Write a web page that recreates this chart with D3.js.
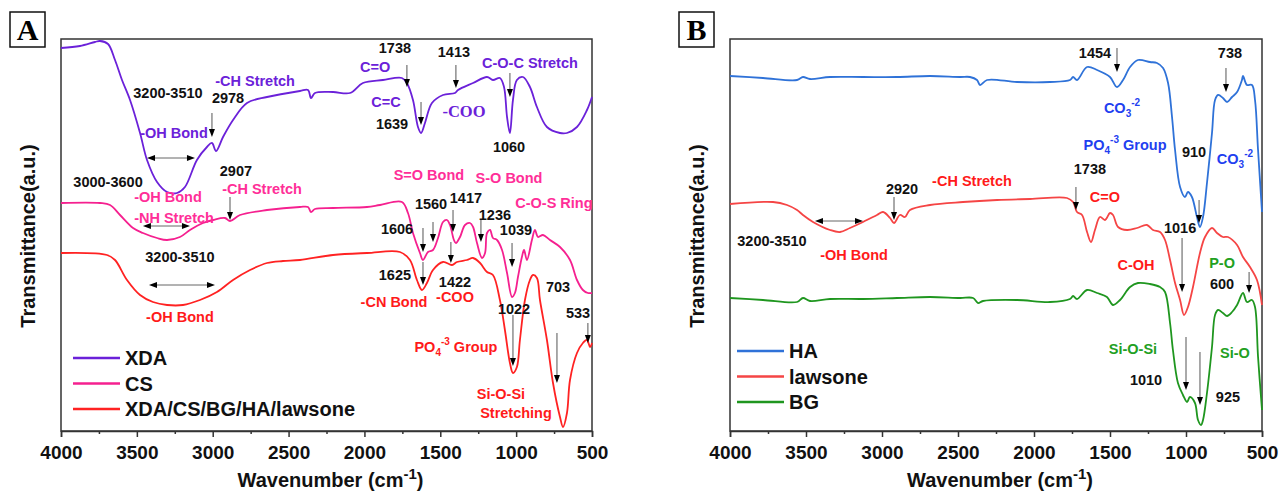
<!DOCTYPE html>
<html><head><meta charset="utf-8">
<script src="https://cdn.jsdelivr.net/npm/d3@7"></script>
<style>
body{margin:0;background:#fff}
svg text{font-family:"Liberation Sans",Arial,sans-serif;font-weight:bold}
svg text.serif{font-family:"Liberation Serif","Times New Roman",serif}
</style></head><body>
<svg id="c" width="1279" height="491"></svg>
<script>
// ---------- data ----------
const xTicks=[4000,3500,3000,2500,2000,1500,1000,500];
const minorTicks=[3750,3250,2750,2250,1750,1250,750];
const seriesA=["XDA","CS","XDA/CS/BG/HA/lawsone"];
const seriesB=["HA","lawsone","BG"];
// spectra: [wavenumber, transmittance (a.u.)]
const xda=[[4000,383],[3875,385],[3776,389],[3743,390],[3690,387],[3644,371],[3598,351],[3545,331],[3479,298],[3433,271],[3367,249],[3301,239],[3235,238],[3183,244],[3104,271],[3038,284],[3005,288],[2978,280],[2932,294],[2866,311],[2774,328],[2642,334],[2425,340],[2372,341],[2352,333],[2326,338],[2207,339],[2095,338],[2010,348],[1878,351],[1753,353],[1720,348],[1680,331],[1647,304],[1627,298],[1601,308],[1555,328],[1482,336],[1403,338],[1383,341],[1284,348],[1192,354],[1153,351],[1107,353],[1080,344],[1060,314],[1041,298],[1021,331],[995,351],[955,354],[909,344],[863,324],[797,304],[711,298],[665,298],[599,304],[533,321],[500,334]];
const cs=[[4000,228],[3743,228],[3677,226],[3611,216],[3525,203],[3460,198],[3367,193],[3301,191],[3216,194],[3150,201],[3064,208],[2998,211],[2919,213],[2886,210],[2820,216],[2642,221],[2425,224],[2372,224],[2352,219],[2326,222],[2207,223],[1983,224],[1897,226],[1753,229],[1713,218],[1680,198],[1634,178],[1614,171],[1581,179],[1548,181],[1515,193],[1482,209],[1456,211],[1436,206],[1410,191],[1397,188],[1370,194],[1337,206],[1304,208],[1284,204],[1258,188],[1225,173],[1205,178],[1192,198],[1172,201],[1153,193],[1126,191],[1093,181],[1060,158],[1027,134],[1008,138],[988,154],[962,174],[948,181],[929,171],[896,191],[876,201],[856,194],[823,196],[777,191],[711,184],[645,171],[599,151],[560,141],[527,138],[500,138]];
const composite=[[4000,178],[3697,176],[3644,171],[3565,151],[3479,136],[3394,129],[3301,126],[3196,126],[3084,131],[2972,139],[2866,151],[2754,161],[2642,168],[2537,170],[2425,171],[2207,176],[1983,178],[1766,179],[1700,171],[1654,151],[1621,141],[1588,148],[1548,161],[1482,169],[1423,166],[1390,169],[1324,171],[1284,173],[1238,168],[1192,159],[1153,156],[1107,131],[1074,101],[1041,68],[1021,58],[995,64],[975,91],[942,131],[909,151],[889,156],[863,153],[843,131],[797,91],[757,48],[711,14],[691,4],[665,18],[645,51],[599,78],[560,88],[533,91],[513,84],[500,88]];
const ha=[[4000,355],[3783,353],[3559,351],[3520,354],[3474,352],[3342,354],[3125,354],[2901,354],[2684,355],[2487,354],[2421,354],[2375,351],[2355,346],[2309,351],[2112,349],[1895,349],[1763,351],[1743,354],[1717,351],[1651,364],[1585,361],[1500,354],[1454,344],[1414,351],[1368,364],[1316,371],[1237,369],[1191,368],[1151,363],[1118,348],[1092,314],[1072,281],[1039,244],[1007,234],[987,239],[961,234],[928,214],[908,204],[888,214],[862,248],[829,298],[809,331],[789,336],[757,333],[730,329],[697,334],[664,339],[632,351],[625,355],[599,346],[566,346],[546,331],[526,281],[500,219]];
const lawsone=[[4000,227],[3717,229],[3625,226],[3559,221],[3520,216],[3454,209],[3342,201],[3276,199],[3211,203],[3125,209],[3033,216],[2993,219],[2947,213],[2921,208],[2882,216],[2849,214],[2816,221],[2684,226],[2467,229],[2243,231],[2026,232],[1783,233],[1743,229],[1717,219],[1684,216],[1651,199],[1625,189],[1599,201],[1566,214],[1533,211],[1500,218],[1480,216],[1447,204],[1388,201],[1322,203],[1257,206],[1217,201],[1171,199],[1138,191],[1105,171],[1072,148],[1039,131],[1013,116],[987,124],[954,144],[908,178],[875,194],[829,203],[796,198],[757,194],[724,194],[664,186],[625,174],[579,164],[533,151],[500,126]];
const bg=[[4000,133],[3783,131],[3559,129],[3520,133],[3474,130],[3342,132],[3125,132],[2901,133],[2684,134],[2487,133],[2401,133],[2368,128],[2336,130],[2112,131],[1895,129],[1763,132],[1743,135],[1717,132],[1651,141],[1585,138],[1520,134],[1480,126],[1434,131],[1368,144],[1316,148],[1237,147],[1171,144],[1138,139],[1105,108],[1086,81],[1053,48],[1020,36],[993,29],[974,34],[941,28],[921,11],[901,6],[888,11],[862,38],[829,84],[809,116],[789,121],[757,118],[730,115],[697,119],[664,126],[625,138],[599,129],[566,131],[546,124],[526,74],[500,21]];

// annotations: [text, wavenumber, a.u., colour key, serif?]
const labelsA=[
 ["3200-3510",3295,338,"k"],["2978",2899,333,"k"],["-CH Stretch",2721,350,"p"],["-OH Bond",3255,298,"p"],
 ["3000-3600",3690,249,"k"],["2907",2847,260,"k"],["-OH Bond",3295,234,"m"],["-CH Stretch",2675,242,"m"],["-NH Stretch",3255,213,"m"],
 ["1738",1799,383,"k"],["C=O",1930,364,"p"],["1413",1410,379,"k"],["C-O-C Stretch",909,368,"p"],["C=C",1858,329,"p"],
 ["1639",1818,307,"k"],["-COO",1344,319,"p",1],["1060",1047,284,"k"],
 ["S=O Bond",1575,256,"m"],["S-O Bond",1047,253,"m"],["C-O-S Ring",751,228,"m"],["1560",1561,227,"k"],["1417",1331,233,"k"],
 ["1236",1140,216,"k"],["1606",1785,202,"k"],["1039",1001,201,"k"],
 ["3200-3510",3216,174,"k"],["-OH Bond",3216,114,"r"],["1625",1799,156,"k"],["1422",1403,149,"k"],["-CN Bond",1805,129,"r"],
 ["-COO",1403,134,"r"],["1022",1014,122,"k"],["703",724,144,"k"],["533",592,118,"k"],["PO_{4}^{-3} Group",1397,84,"r"],
 ["Si-O-Si",1100,37,"r"],["Stretching",1001,18,"r"]
];
const arrowsA=[[3005,318,294],[2886,234,211],[1720,366,344],[1627,329,306],[1397,366,343],[1041,358,334],
 [1614,203,179],[1548,209,189],[1416,221,199],[1232,211,189],[1027,188,164],[1614,169,146],[1430,189,168],
 [1021,116,65],[731,98,48],[527,108,88]];
const spansA=[[3433,3117,273],[3460,3150,205],[3420,2985,146]];
const labelsB=[
 ["2920",2868,242,"k"],["-CH Stretch",2408,250,"r"],["3200-3510",3724,190,"k"],["-OH Bond",3184,176,"r"],
 ["1454",1599,378,"k"],["738",711,378,"k"],["CO_{3}^{-2}",1421,323,"b"],["PO_{4}^{-3} Group",1401,286,"b"],["910",947,279,"k"],
 ["CO_{3}^{-2}",678,272,"b"],["1738",1632,262,"k"],["C=O",1533,234,"r"],["1016",1039,203,"k"],["C-OH",1329,166,"r"],
 ["P-O",763,168,"g"],["600",763,147,"k"],["Si-O-Si",1349,82,"g"],["Si-O",678,78,"g"],["1010",1263,51,"k"],["925",724,34,"k"]
];
const arrowsB=[[2921,234,211],[1454,383,359],[737,363,339],[1724,244,221],[914,231,208],[1026,193,139],[585,159,138],[1000,94,41],[908,79,26]];
const spansB=[[3441,3125,210]];

// ---------- drawing ----------
const COL={k:"#111",p:"#6b21d9",m:"#ff2e98",r:"#ff1a1a",b:"#1f3ff0",g:"#22a022"};
const svg=d3.select("#c");
const plotTop=39,plotBottom=431;
function panel(left,right,series,colors,labels,arrows,spans,letter,boxX){
  const g=svg.append("g");
  const x=d3.scaleLinear().domain([4000,500]).range([left,right]);
  const y=d3.scaleLinear().domain([0,392]).range([plotBottom,plotTop]);
  // frame
  g.append("rect").attr("x",left).attr("y",plotTop).attr("width",right-left).attr("height",plotBottom-plotTop)
   .attr("fill","none").attr("stroke","#333").attr("stroke-width",1.5);
  // axis
  const ax=g.append("g").attr("transform",`translate(0,${plotBottom})`)
   .call(d3.axisBottom(x).tickValues(xTicks).tickSize(6).tickPadding(9).tickFormat(d3.format("d")));
  ax.select(".domain").attr("stroke","#333").attr("stroke-width",1.5);
  ax.selectAll(".tick line").attr("stroke","#333").attr("stroke-width",1.5);
  ax.selectAll(".tick text").attr("font-size",19).attr("fill","#111")
   .style("font-family","Liberation Sans, Arial, sans-serif").style("font-weight","bold");
  const mx=g.append("g").attr("transform",`translate(0,${plotBottom})`)
   .call(d3.axisBottom(x).tickValues(minorTicks).tickSize(3).tickFormat(""));
  mx.select(".domain").remove();
  mx.selectAll(".tick line").attr("stroke","#333").attr("stroke-width",1.5);
  // titles
  const cx=(left+right)/2+4;
  const t=g.append("text").attr("x",cx).attr("y",487).attr("text-anchor","middle").attr("font-size",20).attr("fill","#111");
  t.append("tspan").text("Wavenumber (cm");
  t.append("tspan").attr("dy",-8).attr("font-size",15).text("-1");
  t.append("tspan").attr("dy",8).text(")");
  g.append("text").attr("transform",`translate(${left-26},236) rotate(-90)`).attr("text-anchor","middle")
   .attr("font-size",20).attr("fill","#111").text("Transmittance(a.u.)");
  // box label
  g.append("rect").attr("x",boxX).attr("y",12).attr("width",35).attr("height",35).attr("fill","#fff").attr("stroke","#111").attr("stroke-width",1.5);
  g.append("text").attr("class","serif").attr("x",boxX+17.5).attr("y",40).attr("text-anchor","middle").attr("font-size",30)
   .attr("fill","#000").text(letter);
  // lines
  const line=d3.line().x(d=>x(d[0])).y(d=>y(d[1])).curve(d3.curveCatmullRom.alpha(0.5));
  series.forEach((s,i)=>{
    g.append("path").datum(s.data).attr("d",line).attr("fill","none").attr("stroke",colors[i]).attr("stroke-width",1.8).attr("stroke-linejoin","round");
  });
  // legend
  series.forEach((s,i)=>{
    const ly=[0,25.5,51][i]+(letter==="A"?358:351);
    const lx=letter==="A"?73:737;
    g.append("line").attr("x1",lx).attr("x2",lx+47).attr("y1",ly).attr("y2",ly).attr("stroke",colors[i]).attr("stroke-width",2.5);
    g.append("text").attr("x",lx+52).attr("y",ly+7).attr("font-size",20).attr("fill","#111").text(s.name);
  });
  // spans
  spans.forEach(sp=>{
    const x1=x(sp[0]),x2=x(sp[1]),yy=y(sp[2]);
    g.append("line").attr("x1",x1+6).attr("x2",x2-6).attr("y1",yy).attr("y2",yy).attr("stroke","#666").attr("stroke-width",1);
    g.append("path").attr("d",`M${x1},${yy}L${x1+8},${yy-3}L${x1+8},${yy+3}Z M${x2},${yy}L${x2-8},${yy-3}L${x2-8},${yy+3}Z`).attr("fill","#000");
  });
  // arrows
  arrows.forEach(a=>{
    const xx=x(a[0]),y1=y(a[1]),y2=y(a[2]);
    g.append("line").attr("x1",xx).attr("x2",xx).attr("y1",y1).attr("y2",y2-6).attr("stroke","#555").attr("stroke-width",1);
    g.append("path").attr("d",`M${xx-3},${y2-8}L${xx+3},${y2-8}L${xx},${y2}Z`).attr("fill","#000");
  });
  // labels
  labels.forEach(l=>{
    const size=14.5;
    const te=g.append("text").attr("x",x(l[1])).attr("y",y(l[2])+5).attr("text-anchor","middle")
      .attr("font-size",size).attr("fill",COL[l[3]]);
    if(l[4]) te.attr("class","serif").attr("font-size",16.5);
    const parts=l[0].split(/(_\{[^}]*\}|\^\{[^}]*\})/).filter(p=>p.length);
    let cur=0;
    parts.forEach(p=>{
      let target=0,txt=p,fs=null;
      if(p.startsWith("_{")){target=4;txt=p.slice(2,-1);fs=10;}
      else if(p.startsWith("^{")){target=-7;txt=p.slice(2,-1);fs=10;}
      const ts=te.append("tspan").attr("dy",target-cur).text(txt);
      if(fs) ts.attr("font-size",fs);
      cur=target;
    });
  });
}
panel(61,592,[{name:seriesA[0],data:xda},{name:seriesA[1],data:cs},{name:seriesA[2],data:composite}],
  ["#6b21d9","#f5208f","#ff2222"],labelsA,arrowsA,spansA,"A",10);
panel(730,1262,[{name:seriesB[0],data:ha},{name:seriesB[1],data:lawsone},{name:seriesB[2],data:bg}],
  ["#2f72d8","#f54545","#1f961f"],labelsB,arrowsB,spansB,"B",679);
</script>
</body></html>
